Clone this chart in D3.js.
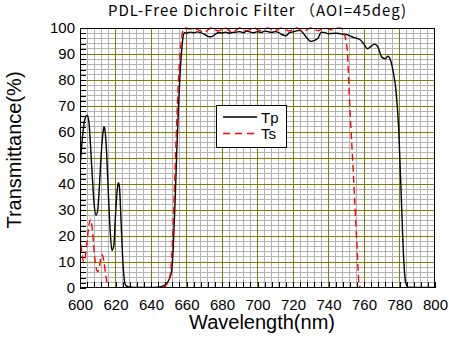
<!DOCTYPE html>
<html><head><meta charset="utf-8">
<script src="https://cdn.jsdelivr.net/npm/d3@7"></script>
<style>body{margin:0;background:#fff}</style>
</head><body>
<svg id="c" width="449" height="344"></svg>
<script>
const title = "PDL-Free Dichroic Filter （AOI=45deg)";
const xLabel = "Wavelength(nm)";
const yLabel = "Transmittance(%)";
const xTicks = [600,620,640,660,680,700,720,740,760,780,800];
const yTicks = [0,10,20,30,40,50,60,70,80,90,100];
const seriesNames = ["Tp","Ts"];

const tpWl = [600,601,602,603,604,605,606,607,608,609,610,611,612,613,613.5,614,615,616,617,618,619,620,621,621.6,622.2,623,624,625,626,628,635,640,645,648,650,651.5,652.5,653.5,654.5,655.5,656.5,657.5,658.3,659,660,662,664,666,668,670,672,674,676,678,680,682,684,686,688,690,692,694,696,698,700,702,704,706,708,710,712,714,716,718,720,722,724,726,728,730,732,734,736,738,740,742,744,746,748,750,752,754,756,758,760,762,764,766,768,770,772,773.5,775,776.5,778,779.5,781,782.3,783.5,785,790,800];
const tpVal = [46.5,55,62,65.5,66.5,64,54,42,32,28,30,40,52,60,62,61,52,36,22,14.5,16,28,38,40.5,39,28,12,3,0.8,0.3,0.2,0.2,0.4,1.2,3,6,15,32,52,70,84,93,97.5,98.2,98,98.4,98.2,98.5,98.2,97.6,96.8,96.6,97.5,98.2,98.1,98.4,98,98.3,98.4,98.6,98.2,98.8,98.4,98.2,98.6,98.3,98.8,98.6,98.3,98.6,98.2,97.4,97,98.2,98.5,98.9,99.1,97.8,96,94.8,95.2,96,98.4,98.2,97.8,97.9,98,97.9,97.6,97.5,97,96.4,96,95.4,93.8,92,93,93.8,92.5,88.8,88.2,89.2,87.5,83,76,62,35,12,2,0.3,0.2,0.2];

const tsWl = [600,601,602,603,604,605,606,607,608,609,610,611,612,612.5,613.5,614.5,615.5,616.5,640,647,649,650.5,651.5,652.5,653.5,654.5,655.5,656.5,657.5,658.5,659.5,662,664,666,668,670,672,674,676,678,680,682,684,686,688,690,692,694,696,698,700,702,704,706,708,710,712,714,716,718,720,722,724,726,728,730,732,734,736,738,740,742,744,746,747.5,749,750.5,752,754,756,757.3,758.5,800];
const tsVal = [21,14,10,12,18,24,26.5,22,14,8,6.3,8.5,12.5,12.8,10,5,1,0,0,0.5,1.5,4,10,25,44,64,80,91,97.5,99.8,100,99.6,100,99.5,98.8,98.4,99.2,100,99.4,98.8,99.6,100,99,98.4,99.2,100,99.5,99,99.6,100,99.4,99,99.6,100,99.4,99,99.7,100,99.3,98.8,99.5,100,99.3,98.7,99.4,100,99.6,99,99.5,100,99.6,99.2,99.8,100,99.8,97.5,92,70,44,17,1,0,0];

const svg = d3.select("#c");
const L=80, R=435, T=28, B=288;
const x = d3.scaleLinear().domain([600,800]).range([L,R]);
const y = d3.scaleLinear().domain([0,100]).range([B,T]);
const sans = "Liberation Sans, Arial, sans-serif";

// minor grid
const g = svg.append("g");
const minorX = d3.range(604,800,4).filter(v=>v%20!==0);
const minorY = d3.range(2,100,2).filter(v=>v%10!==0);
g.selectAll(".mx").data(minorX).enter().append("line")
 .attr("x1",d=>x(d)).attr("x2",d=>x(d)).attr("y1",T).attr("y2",B)
 .attr("stroke","#b4b4b4").attr("stroke-width",1).attr("shape-rendering","crispEdges");
g.selectAll(".my").data(minorY).enter().append("line")
 .attr("y1",d=>y(d)).attr("y2",d=>y(d)).attr("x1",L).attr("x2",R)
 .attr("stroke","#b4b4b4").attr("stroke-width",1).attr("shape-rendering","crispEdges");
// major grid
g.selectAll(".Mx").data(xTicks.slice(1,-1)).enter().append("line")
 .attr("x1",d=>x(d)).attr("x2",d=>x(d)).attr("y1",T).attr("y2",B)
 .attr("stroke","#808000").attr("stroke-width",1).attr("shape-rendering","crispEdges");
g.selectAll(".My").data(yTicks.slice(1,-1)).enter().append("line")
 .attr("y1",d=>y(d)).attr("y2",d=>y(d)).attr("x1",L).attr("x2",R)
 .attr("stroke","#808000").attr("stroke-width",1).attr("shape-rendering","crispEdges");

// axes with inside ticks
const yAxisMinor = d3.axisRight(y).tickValues(d3.range(0,101,2)).tickSize(6).tickFormat("");
svg.append("g").attr("transform",`translate(${L},0)`).call(yAxisMinor)
 .call(s=>{s.select(".domain").remove(); s.selectAll("line").attr("stroke","#000").attr("shape-rendering","crispEdges");});
const xAxisMinor = d3.axisTop(x).tickValues(d3.range(600,801,4)).tickSize(6).tickFormat("");
svg.append("g").attr("transform",`translate(0,${B})`).call(xAxisMinor)
 .call(s=>{s.select(".domain").remove(); s.selectAll("line").attr("stroke","#000").attr("shape-rendering","crispEdges");});

const yAxis = d3.axisLeft(y).tickValues(yTicks).tickSize(0).tickPadding(5);
svg.append("g").attr("transform",`translate(${L},0)`).call(yAxis)
 .call(s=>{s.select(".domain").remove(); s.selectAll("text").attr("font-family",sans).attr("font-size","15px").attr("fill","#000");});
const xAxis = d3.axisBottom(x).tickValues(xTicks).tickSize(0).tickPadding(11);
svg.append("g").attr("transform",`translate(0,${B})`).call(xAxis)
 .call(s=>{s.select(".domain").remove(); s.selectAll("text").attr("font-family",sans).attr("font-size","15px").attr("fill","#000");});

// clip
svg.append("clipPath").attr("id","clip").append("rect").attr("x",L).attr("y",T-1).attr("width",R-L).attr("height",B-T+1);

const line = d3.line().x(d=>x(d[0])).y(d=>y(d[1])).curve(d3.curveMonotoneX);
const tp = tpWl.map((w,i)=>[w,tpVal[i]]);
const ts = tsWl.map((w,i)=>[w,tsVal[i]]);
const plot = svg.append("g").attr("clip-path","url(#clip)");
plot.append("path").attr("d",line(tp)).attr("fill","none").attr("stroke","#000").attr("stroke-width",1.4);
plot.append("path").attr("d",line(ts)).attr("fill","none").attr("stroke","#ff0000").attr("stroke-width",1.4).attr("stroke-dasharray","7,4");

// border
svg.append("rect").attr("x",L+0.5).attr("y",T+0.5).attr("width",R-L-1).attr("height",B-T-1)
 .attr("fill","none").attr("stroke","#000").attr("stroke-width",1);

// legend
const lg = svg.append("g").attr("transform","translate(216,105)");
lg.append("rect").attr("x",0.5).attr("y",0.5).attr("width",70).attr("height",42).attr("fill","#fff").attr("stroke","#000");
lg.append("line").attr("x1",7).attr("x2",41).attr("y1",12).attr("y2",12).attr("stroke","#000").attr("stroke-width",1.4);
lg.append("line").attr("x1",7).attr("x2",41).attr("y1",28.5).attr("y2",28.5).attr("stroke","#ff0000").attr("stroke-width",1.4).attr("stroke-dasharray","7,5");
lg.selectAll("text").data(seriesNames).enter().append("text")
 .attr("x",45).attr("y",(d,i)=>17.5+i*16.5).text(d=>d)
 .attr("font-family",sans).attr("font-size","15px");

// titles
svg.append("text").attr("x",257).attr("y",16).attr("text-anchor","middle")
 .attr("font-family","Noto Sans CJK JP, sans-serif").attr("font-size","15px")
 .attr("textLength",298).attr("lengthAdjust","spacing").text(title);
svg.append("text").attr("x",262).attr("y",329).attr("text-anchor","middle")
 .attr("font-family",sans).attr("font-size","20px").text(xLabel);
svg.append("text").attr("transform","translate(21,150) rotate(-90)").attr("text-anchor","middle")
 .attr("font-family",sans).attr("font-size","20px").text(yLabel);
</script>
</body></html>
